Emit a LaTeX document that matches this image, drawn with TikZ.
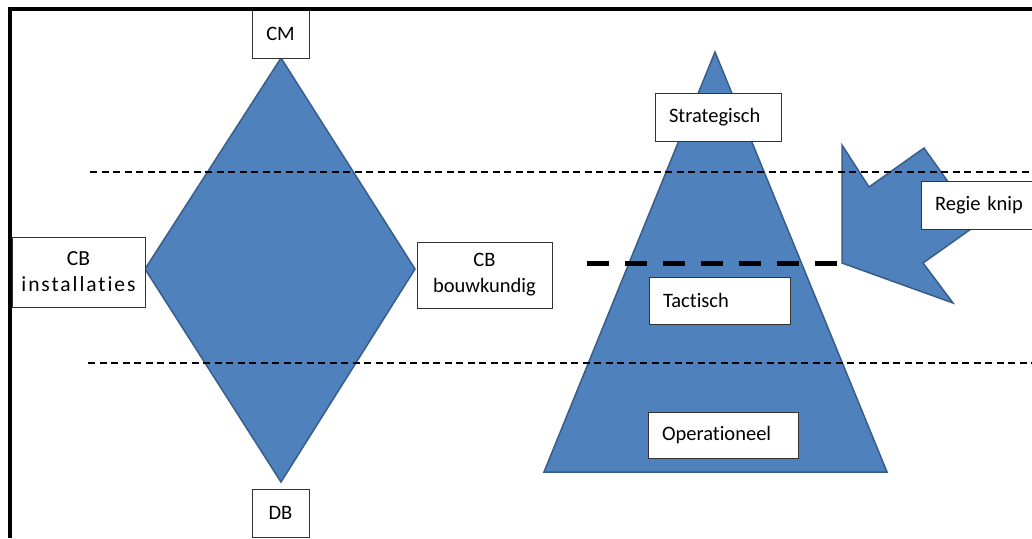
\documentclass[tikz,border=0pt]{standalone}
\usepackage{fontspec}
\setmainfont{Carlito}[Ligatures=NoCommon]
\definecolor{shapefill}{HTML}{4F81BD}
\definecolor{shapeedge}{HTML}{385D8A}
\tikzset{
  lbl/.style={draw=black!80, line width=1pt, fill=white, inner sep=0pt,
    font=\fontsize{20.5}{26}\selectfont},
  ctrbox/.style={lbl, align=center},
  leftbox/.style={lbl, align=left, inner xsep=14pt},
  shapeblue/.style={fill=shapefill, draw=shapeedge, line width=1.5pt, line join=miter},
  thindash/.style={line width=1.4pt, dash pattern=on 7pt off 4.5pt},
  thickdash/.style={line width=5pt, dash pattern=on 22pt off 16pt},
}
\begin{document}
\begin{tikzpicture}[x=1pt,y=-1pt]
\useasboundingbox (0,0) rectangle (1032,538);
\fill[white] (0,0) rectangle (1032,538);

% diamond
\coordinate (dt) at (281,58);
\coordinate (dr) at (415,269);
\coordinate (db) at (281,482);
\coordinate (dl) at (145,269);
\draw[shapeblue] (dt) -- (dr) -- (db) -- (dl) -- cycle;

% pyramid
\coordinate (pt) at (715,52);
\coordinate (pr) at (887,472);
\coordinate (pl) at (544,472);
\draw[shapeblue] (pt) -- (pr) -- (pl) -- cycle;

% notched arrow pointing at the cut
\coordinate (atip) at (842,263);
\coordinate (ab1) at (842,145);
\coordinate (an1) at (869,187);
\coordinate (at1) at (924,148);
\coordinate (at2) at (978,224);
\coordinate (an2) at (923,263);
\coordinate (ab2) at (953,303);
\draw[shapeblue] (atip) -- (ab1) -- (an1) -- (at1) -- (at2) -- (an2) -- (ab2) -- cycle;

% labels
\node[ctrbox, minimum width=57pt, minimum height=48pt] (cm) at (280.5,34) {CM};
\node[ctrbox, minimum width=57pt, minimum height=48pt] (dbx) at (280.5,513) {DB};
\node[ctrbox, minimum width=133pt, minimum height=70pt, font=\fontsize{21.5}{26}\selectfont] (cbi) at (78.5,272) {CB\\{\addfontfeature{LetterSpace=9}installaties}};
\node[ctrbox, minimum width=135pt, minimum height=66pt] (cbb) at (484.5,275) {CB\\bouwkundig};
\node[leftbox, minimum width=126pt, minimum height=48pt, text width=98pt] (str) at (718,117) {Strategisch};
\node[leftbox, minimum width=141pt, minimum height=47pt, text width=113pt] (tac) at (719.5,300.5) {Tactisch};
\node[leftbox, minimum width=150pt, minimum height=46pt, text width=122pt] (ope) at (723,435) {Operationeel};
\node[leftbox, minimum width=124pt, minimum height=48pt, text width=96pt] (reg) at (983,205) {Regie knip};

% level lines
\coordinate (l1a) at (90,172);
\coordinate (l1b) at (1032,172);
\coordinate (l2a) at (88,363);
\coordinate (l2b) at (1032,363);
\draw[thindash] (l1a) -- (l1b);
\draw[thindash] (l2a) -- (l2b);

% the cut
\coordinate (cuta) at (587,263);
\coordinate (cutb) at (837,263);
\draw[thickdash] (cuta) -- (cutb);

% frame
\coordinate (fb) at (10,538);
\coordinate (fc) at (10,9);
\coordinate (fr) at (1032,9);
\draw[line width=4pt] (fb) -- (fc) -- (fr);
\end{tikzpicture}
\end{document}
